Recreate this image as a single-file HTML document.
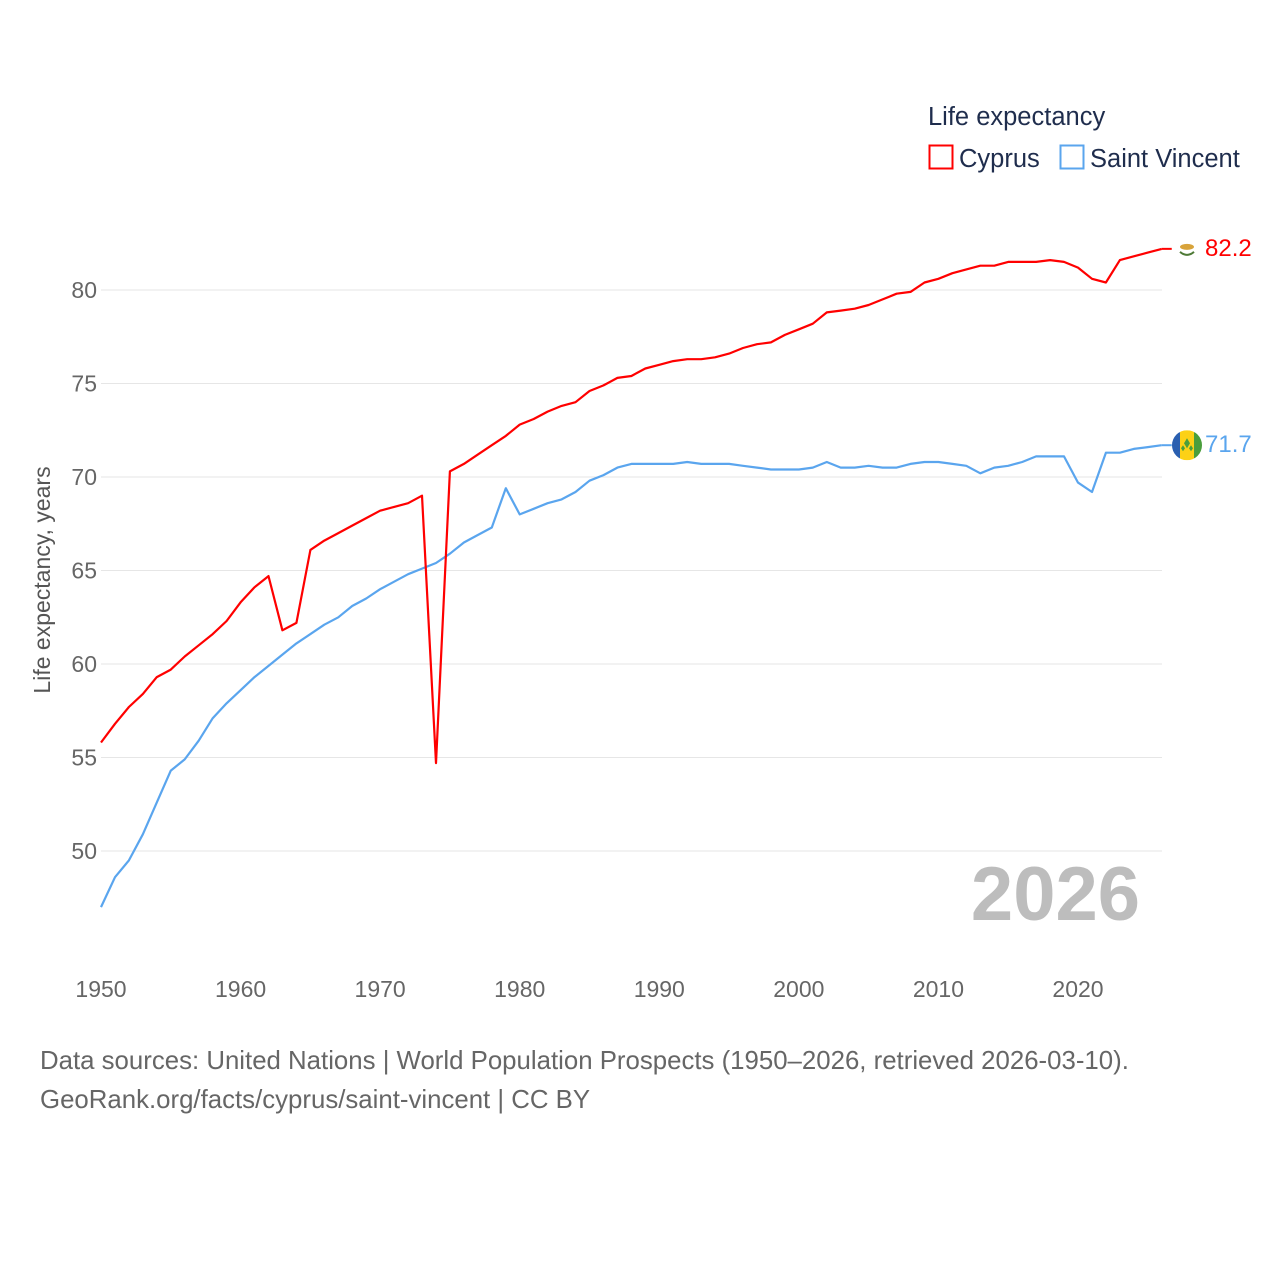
<!DOCTYPE html>
<html><head><meta charset="utf-8">
<style>
html,body{margin:0;padding:0;background:#fff;}
svg text{font-family:"Liberation Sans",sans-serif;}
</style></head>
<body>
<svg id="chart" width="1280" height="1280" viewBox="0 0 1280 1280" xmlns="http://www.w3.org/2000/svg">
<g id="grid"></g>
<g id="yticks"></g>
<g id="xticks"></g>
<text x="50" y="580" transform="rotate(-90 50 580)" text-anchor="middle" font-size="23" fill="#555">Life expectancy, years</text>
<text x="1140" y="920" text-anchor="end" font-size="76" font-weight="bold" fill="#bdbdbd">2026</text>
<g id="series"></g>
<g>
<text x="928" y="125" font-size="25.5" fill="#1f2d4d">Life expectancy</text>
<rect x="929.5" y="145.5" width="23" height="23" fill="none" stroke="#ff0000" stroke-width="2"/>
<text x="959" y="167" font-size="25.5" fill="#1f2d4d">Cyprus</text>
<rect x="1060.5" y="145.5" width="23" height="23" fill="none" stroke="#5aa5ee" stroke-width="2"/>
<text x="1090" y="167" font-size="25.5" fill="#1f2d4d">Saint Vincent</text>
</g>
<text x="40" y="1069" font-size="25.8" fill="#666">Data sources: United Nations | World Population Prospects (1950–2026, retrieved 2026-03-10).</text>
<text x="40" y="1108" font-size="25.8" fill="#666">GeoRank.org/facts/cyprus/saint-vincent | CC BY</text>
</svg>
<script>
const years = [];
for (let y = 1950; y <= 2026; y++) years.push(y);
const cyprus = [55.8,56.8,57.7,58.4,59.3,59.7,60.4,61.0,61.6,62.3,63.3,64.1,64.7,61.8,62.2,66.1,66.6,67.0,67.4,67.8,68.2,68.4,68.6,69.0,54.7,70.3,70.7,71.2,71.7,72.2,72.8,73.1,73.5,73.8,74.0,74.6,74.9,75.3,75.4,75.8,76.0,76.2,76.3,76.3,76.4,76.6,76.9,77.1,77.2,77.6,77.9,78.2,78.8,78.9,79.0,79.2,79.5,79.8,79.9,80.4,80.6,80.9,81.1,81.3,81.3,81.5,81.5,81.5,81.6,81.5,81.2,80.6,80.4,81.6,81.8,82.0,82.2];
const saintVincent = [47.0,48.6,49.5,50.9,52.6,54.3,54.9,55.9,57.1,57.9,58.6,59.3,59.9,60.5,61.1,61.6,62.1,62.5,63.1,63.5,64.0,64.4,64.8,65.1,65.4,65.9,66.5,66.9,67.3,69.4,68.0,68.3,68.6,68.8,69.2,69.8,70.1,70.5,70.7,70.7,70.7,70.7,70.8,70.7,70.7,70.7,70.6,70.5,70.4,70.4,70.4,70.5,70.8,70.5,70.5,70.6,70.5,70.5,70.7,70.8,70.8,70.7,70.6,70.2,70.5,70.6,70.8,71.1,71.1,71.1,69.7,69.2,71.3,71.3,71.5,71.6,71.7];
const yTicks = [50,55,60,65,70,75,80];
const xTicks = [1950,1960,1970,1980,1990,2000,2010,2020];
const labels = ["82.2","71.7"];

const NS = "http://www.w3.org/2000/svg";
const xs = y => 101 + (y - 1950) * (977 / 70);
const ys = v => 290 + (80 - v) * (561 / 30);
function mk(tag, attrs, parent) {
  const e = document.createElementNS(NS, tag);
  for (const k in attrs) e.setAttribute(k, attrs[k]);
  parent.appendChild(e); return e;
}
const grid = document.getElementById('grid');
const yt = document.getElementById('yticks');
const xt = document.getElementById('xticks');
yTicks.forEach(v => {
  const l = mk('line', {x1: 101, x2: 1162, y1: ys(v), y2: ys(v), stroke: '#e6e6e6', 'stroke-width': 1}, grid);
  
  
  const t = mk('text', {x: 97, y: ys(v) + 8, 'text-anchor': 'end', 'font-size': 23, fill: '#666'}, yt);
  t.textContent = v;
  
  
});
xTicks.forEach(v => {
  const t = mk('text', {x: xs(v), y: 997, 'text-anchor': 'middle', 'font-size': 23, fill: '#666'}, xt);
  t.textContent = v;
  
  
});
const sg = document.getElementById('series');
function line(data, color, name) {
  const pts = data.map((v, i) => xs(years[i]).toFixed(1) + ',' + ys(v).toFixed(1)).join(' ');
  const p = mk('polyline', {points: pts, fill: 'none', stroke: color, 'stroke-width': 2.2, 'stroke-linejoin': 'round'}, sg);
  
  
}
line(saintVincent, '#5aa5ee', 'saint-vincent-line');
line(cyprus, '#ff0000', 'cyprus-line');

const lastX = xs(2026);
const cy1 = ys(cyprus[cyprus.length - 1]);
const cl = mk('line', {x1: lastX, x2: lastX + 10, y1: cy1, y2: cy1, stroke: '#ff0000', 'stroke-width': 2}, sg);


const cf = mk('g', {}, sg);


mk('circle', {cx: 1187, cy: cy1, r: 14, fill: '#fff'}, cf);
mk('ellipse', {cx: 1187, cy: cy1 - 2, rx: 7, ry: 3, fill: '#d8a33a'}, cf);
mk('path', {d: `M1180 ${cy1 + 3} q7 6 14 0`, stroke: '#4e7a36', 'stroke-width': 2, fill: 'none'}, cf);
const ct = mk('text', {x: 1205, y: cy1 + 7, 'font-size': 24, fill: '#ff0000'}, sg);
ct.textContent = labels[0];


const sy1 = ys(saintVincent[saintVincent.length - 1]);
const sl = mk('line', {x1: lastX, x2: lastX + 10, y1: sy1, y2: sy1, stroke: '#5aa5ee', 'stroke-width': 2}, sg);


const sf = mk('g', {}, sg);


const cp = mk('clipPath', {id: 'svc'}, sf);
mk('circle', {cx: 1187, cy: sy1, r: 15}, cp);
const fg = mk('g', {'clip-path': 'url(#svc)'}, sf);
mk('rect', {x: 1172, y: sy1 - 15, width: 8, height: 30, fill: '#2a5fb0'}, fg);
mk('rect', {x: 1180, y: sy1 - 15, width: 14, height: 30, fill: '#fcd116'}, fg);
mk('rect', {x: 1194, y: sy1 - 15, width: 8, height: 30, fill: '#4a9e3c'}, fg);
mk('path', {d: `M1184 ${sy1 - 2} l3 -5 l3 5 l-3 5 z M1181 ${sy1 + 3} l2 -3 l2 3 l-2 3 z M1189 ${sy1 + 3} l2 -3 l2 3 l-2 3 z`, fill: '#4a9e3c'}, fg);
const st = mk('text', {x: 1205, y: sy1 + 7, 'font-size': 24, fill: '#5aa5ee'}, sg);
st.textContent = labels[1];


</script>
</body></html>
